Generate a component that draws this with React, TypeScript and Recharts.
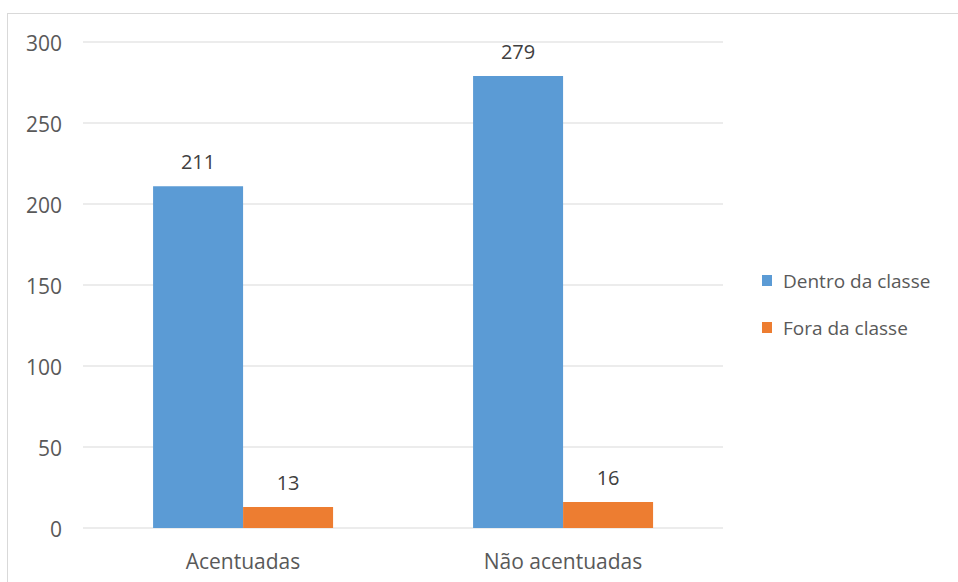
import React from 'react';
import { BarChart, Bar, XAxis, YAxis, CartesianGrid, Legend, LabelList } from 'recharts';

const categories = ['Acentuadas', 'Não acentuadas'];
const dentroValues = [211, 279];
const foraValues = [13, 16];
const yTicks = [0, 50, 100, 150, 200, 250, 300];

const seriesNames = { dentro: 'Dentro da classe', fora: 'Fora da classe' };
const BLUE = '#5B9BD5';
const ORANGE = '#ED7D31';
const TEXT = '#595959';
const FONT = '"Open Sans", "Noto Sans", sans-serif';

const data = categories.map((name, i) => ({
  name,
  dentro: dentroValues[i],
  fora: foraValues[i],
}));

// legend drawn by hand so the squares and spacing look like the office chart
const renderLegend = () => (
  <div style={{ fontFamily: FONT, fontSize: 19, color: TEXT }}>
    {[
      { label: seriesNames.dentro, color: BLUE },
      { label: seriesNames.fora, color: ORANGE },
    ].map((item) => (
      <div key={item.label} style={{ display: 'flex', alignItems: 'center', height: 47 }}>
        <span style={{ width: 10, height: 11, background: item.color, marginRight: 11, display: 'inline-block' }} />
        <span>{item.label}</span>
      </div>
    ))}
  </div>
);

const App: React.FC = () => {
  return (
    <div style={{ position: 'absolute', left: 0, top: 0, width: 958, height: 582, background: '#fff', overflow: 'hidden' }}>
      <div
        style={{
          position: 'absolute',
          left: 7,
          top: 13,
          width: 960,
          height: 580,
          borderTop: '1px solid #D9D9D9',
          borderLeft: '1px solid #D9D9D9',
        }}
      />
      <BarChart
        width={958}
        height={582}
        data={data}
        margin={{ top: 42, right: 39, bottom: 0, left: 0 }}
        barCategoryGap="21.9%"
        barGap={0}
        style={{ fontFamily: FONT }}
      >
        <CartesianGrid vertical={false} stroke="#D9D9D9" />
        <XAxis
          dataKey="name"
          axisLine={false}
          tickLine={false}
          tickSize={0}
          tickMargin={26}
          height={54}
          tick={{ fontSize: 21, fill: TEXT, fontFamily: FONT }}
        />
        <YAxis
          domain={[0, 300]}
          ticks={yTicks}
          axisLine={false}
          tickLine={false}
          tickSize={0}
          tickMargin={21}
          width={83}
          tick={{ fontSize: 21, fill: TEXT, fontFamily: FONT, dy: 2 }}
        />
        <Legend
          layout="vertical"
          align="right"
          verticalAlign="top"
          content={renderLegend}
          wrapperStyle={{ left: 762, top: 257, width: 196 }}
        />
        <Bar dataKey="dentro" name={seriesNames.dentro} fill={BLUE} isAnimationActive={false}>
          <LabelList dataKey="dentro" position="top" offset={17} style={{ fontSize: 20, fill: '#404040', fontFamily: FONT }} />
        </Bar>
        <Bar dataKey="fora" name={seriesNames.fora} fill={ORANGE} isAnimationActive={false}>
          <LabelList dataKey="fora" position="top" offset={17} style={{ fontSize: 20, fill: '#404040', fontFamily: FONT }} />
        </Bar>
      </BarChart>
    </div>
  );
};

export default App;
